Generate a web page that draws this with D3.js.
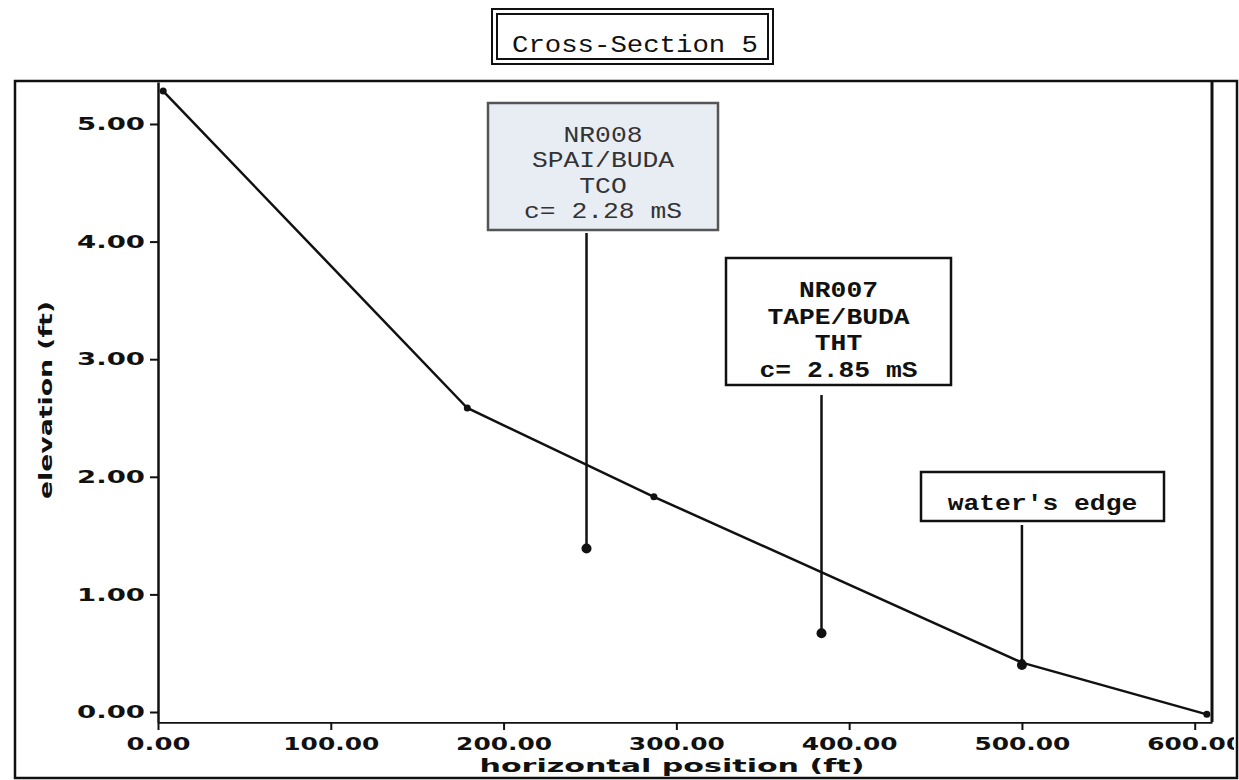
<!DOCTYPE html>
<html>
<head>
<meta charset="utf-8">
<script src="https://cdn.jsdelivr.net/npm/d3@7"></script>
<style>
  body { margin: 0; background: #fff; }
  svg { display: block; }
</style>
</head>
<body>
<svg id="chart" width="1239" height="780"></svg>
<script>
// profile of the cross-section
const posFt = [3, 179, 287, 500, 607]
const elevFt = [5.28, 2.585, 1.83, 0.42, -0.02]

// sample markers hanging off the boxes
const noteX = [248, 384, 500]
const noteY = [1.39, 0.67, 0.40]
const noteText = [
    ['NR008', 'SPAI/BUDA', 'TCO', 'c= 2.28 mS'],
    ['NR007', 'TAPE/BUDA', 'THT', 'c= 2.85 mS'],
    ["water's edge"]
]

const xTicks = [0, 100, 200, 300, 400, 500, 600]
const yTicks = [0, 1, 2, 3, 4, 5]
const chartTitle = 'Cross-Section 5'
const xTitle = 'horizontal position (ft)'
const yTitle = 'elevation (ft)'

const svg = d3.select('#chart')
const mono = "'Liberation Mono', 'Courier New', monospace"
const wide = "'DejaVu Sans', sans-serif"
// courier-like print is wider than the font we have, so stretch each line
const charW = 15.8

// plot box in pixels
const plotLeft = 158, plotRight = 1212, plotTop = 82, plotBottom = 722
const x = d3.scaleLinear([0, 610], [plotLeft, plotRight])
const y = d3.scaleLinear([-0.085, 5.357], [plotBottom, plotTop])

// outer frame
svg.append('rect')
   .attr('x', 15).attr('y', 81)
   .attr('width', 1222).attr('height', 697)
   .attr('fill', 'none').attr('stroke', '#111').attr('stroke-width', 2.5)

// right edge of the plot
svg.append('line')
   .attr('x1', plotRight).attr('x2', plotRight)
   .attr('y1', plotTop).attr('y2', plotBottom)
   .attr('stroke', '#111').attr('stroke-width', 3)

// clip so the last x label gets cut by the frame like in the print
svg.append('clipPath').attr('id', 'frame-clip')
   .append('rect').attr('x', 0).attr('y', 0).attr('width', 1234).attr('height', 780)

const fmt = d3.format('.2f')

const xAxis = svg.append('g')
   .attr('transform', `translate(0,${plotBottom})`)
   .attr('clip-path', 'url(#frame-clip)')
   .call(d3.axisBottom(x).tickValues(xTicks).tickFormat(fmt)
           .tickSize(8).tickSizeOuter(0).tickPadding(7))
xAxis.select('.domain').attr('stroke', '#111').attr('stroke-width', 2.5)
xAxis.selectAll('.tick line').attr('stroke', '#111').attr('stroke-width', 2)
xAxis.selectAll('.tick text')
     .attr('font-family', wide).attr('font-weight', 'bold').attr('font-size', 18)
     .attr('fill', '#111')
     .attr('textLength', d => fmt(d).length * 16)
     .attr('lengthAdjust', 'spacingAndGlyphs')

const yAxis = svg.append('g')
   .attr('transform', `translate(${plotLeft},0)`)
   .call(d3.axisLeft(y).tickValues(yTicks).tickFormat(fmt)
           .tickSize(8).tickSizeOuter(0).tickPadding(5))
yAxis.select('.domain').attr('stroke', '#111').attr('stroke-width', 2.5)
yAxis.selectAll('.tick line').attr('stroke', '#111').attr('stroke-width', 2)
yAxis.selectAll('.tick text')
     .attr('font-family', wide).attr('font-weight', 'bold').attr('font-size', 18)
     .attr('fill', '#111')
     .attr('textLength', d => fmt(d).length * 17)
     .attr('lengthAdjust', 'spacingAndGlyphs')

// axis titles
svg.append('text')
   .attr('x', 672).attr('y', 772)
   .attr('text-anchor', 'middle')
   .attr('font-family', wide).attr('font-weight', 'bold').attr('font-size', 18)
   .attr('textLength', 385).attr('lengthAdjust', 'spacingAndGlyphs')
   .attr('fill', '#111')
   .text(xTitle)
svg.append('text')
   .attr('transform', 'translate(52,400) rotate(-90)')
   .attr('text-anchor', 'middle')
   .attr('font-family', wide).attr('font-weight', 'bold').attr('font-size', 17)
   .attr('textLength', 198).attr('lengthAdjust', 'spacingAndGlyphs')
   .attr('fill', '#111')
   .text(yTitle)

// the profile line
const I = d3.range(posFt.length)
svg.append('path')
   .attr('d', d3.line().x(i => x(posFt[i])).y(i => y(elevFt[i]))(I))
   .attr('fill', 'none').attr('stroke', '#111').attr('stroke-width', 2.5)
svg.append('g')
   .selectAll('circle')
   .data(I)
   .join('circle')
     .attr('cx', i => x(posFt[i]))
     .attr('cy', i => y(elevFt[i]))
     .attr('r', 3.5)
     .attr('fill', '#111')

// annotation boxes: layout only, text comes from noteText
const boxes = [
    {x: 488, y: 103, w: 230, h: 127, lineTop: 233, base: 142, step: 25.3,
     fill: '#e8edf3', stroke: '#555', text: '#333', weight: 'normal'},
    {x: 726, y: 258, w: 225, h: 127, lineTop: 395, base: 297, step: 26.7,
     fill: '#fff', stroke: '#111', text: '#111', weight: 'bold'},
    {x: 921, y: 472, w: 243, h: 49, lineTop: 525, base: 510, step: 0,
     fill: '#fff', stroke: '#111', text: '#111', weight: 'bold'}
]

boxes.forEach((b, k) => {
    svg.append('line')
       .attr('x1', x(noteX[k])).attr('x2', x(noteX[k]))
       .attr('y1', b.lineTop).attr('y2', y(noteY[k]))
       .attr('stroke', '#111').attr('stroke-width', 2.5)
    svg.append('circle')
       .attr('cx', x(noteX[k])).attr('cy', y(noteY[k]))
       .attr('r', 5).attr('fill', '#111')
    svg.append('rect')
       .attr('x', b.x).attr('y', b.y).attr('width', b.w).attr('height', b.h)
       .attr('fill', b.fill).attr('stroke', b.stroke).attr('stroke-width', 2.5)
    svg.append('g')
       .selectAll('text')
       .data(noteText[k])
       .join('text')
         .attr('x', b.x + b.w / 2)
         .attr('y', (d, j) => b.base + j * b.step)
         .attr('text-anchor', 'middle')
         .attr('font-family', mono).attr('font-size', 22)
         .attr('font-weight', b.weight)
         .attr('textLength', d => d.length * charW)
         .attr('lengthAdjust', 'spacingAndGlyphs')
         .attr('fill', b.text)
         .text(d => d)
})

// title with double border
svg.append('rect')
   .attr('x', 492).attr('y', 9).attr('width', 281).attr('height', 55)
   .attr('fill', '#fff').attr('stroke', '#111').attr('stroke-width', 2)
svg.append('rect')
   .attr('x', 497).attr('y', 14).attr('width', 271).attr('height', 45)
   .attr('fill', 'none').attr('stroke', '#111').attr('stroke-width', 2)
svg.append('text')
   .attr('x', 635).attr('y', 52)
   .attr('text-anchor', 'middle')
   .attr('font-family', mono).attr('font-size', 23)
   .attr('textLength', chartTitle.length * 16.4)
   .attr('lengthAdjust', 'spacingAndGlyphs')
   .attr('fill', '#111')
   .text(chartTitle)
</script>
</body>
</html>
